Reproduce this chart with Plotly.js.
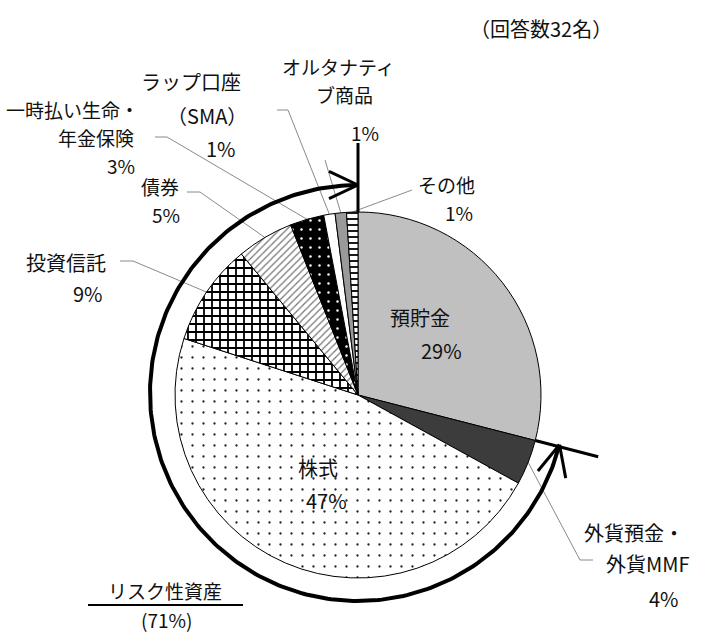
<!DOCTYPE html>
<html><head><meta charset="utf-8">
<script src="https://cdn.plot.ly/plotly-3.0.1.min.js"></script>
<style>html,body{margin:0;padding:0;background:#fff;}#chart{width:703px;height:633px;}</style>
</head><body><div id="chart"></div>
<script>
// ---- data ----
const categories = ['預貯金','外貨預金・外貨MMF','株式','投資信託','債券','一時払い生命・年金保険','ラップ口座（SMA）','オルタナティブ商品','その他'];
const values = [29, 4, 47, 9, 5, 3, 1, 1, 1];
const labelNameLines = [['預貯金'],['外貨預金・','外貨MMF'],['株式'],['投資信託'],['債券'],['一時払い生命・','年金保険'],['ラップ口座','（SMA）'],['オルタナティ','ブ商品'],['その他']];
const noteText = '（回答数32名）';
const riskTitle = 'リスク性資産';

// ---- layout / style ----
const W = 703, H = 633;
const CX = 358, CY = 395, R = 183;        // pie geometry (pixels)
const ARC_CY = 393, ARC_R = 208;          // risk arc
const FONT = '"Noto Sans CJK JP", "Noto Sans", sans-serif';
// label line positions per category: [x, y(center), font size]
const labelPos = [
  [[420,317,20],[441,350,20]],
  [[634,532,20],[648,563,20],[664,598,20]],
  [[318,467,20],[326,500,20]],
  [[66,262,20],[88,293,20]],
  [[160,186,19],[166,214,19]],
  [[72,109,19],[96,137,19],[121,165,19]],
  [[191,81,20],[207,115,20],[221,148,20]],
  [[338,66,19],[344,94,19],[365,132,19]],
  [[446,184,19],[459,212,19]]
];
const leaderStart = {
  1: [[593,560],[580,560]],
  3: [[120,261],[133,261]],
  4: [[187,192],[200,192]],
  5: [[155,137],[167,137]],
  6: [[277,110],[288,110]],
  7: [[325,160]],
  8: [[412,190]]
};
const sliceColors = ['#c0c0c0','#3c3c3c','#ffffff','#ffffff','#ffffff','#000000','#ffffff','#9a9a9a','#ffffff'];
const pattern = {
  shape:   ['', '', '.', '+', '/', '.', '', '', '-'],
  fgcolor: ['#c0c0c0','#3c3c3c','#222222','#000000','#777777','#ffffff','#ffffff','#9a9a9a','#000000'],
  bgcolor: ['#c0c0c0','#3c3c3c','#ffffff','#ffffff','#ffffff','#000000','#ffffff','#9a9a9a','#ffffff'],
  size:    [8, 8, 11, 8, 5, 9, 8, 8, 6],
  solidity:[0.3, 0.3, 0.035, 0.4, 0.25, 0.06, 0.3, 0.3, 0.3],
  fillmode: 'replace'
};

// ---- geometry from data ----
const total = values.reduce((a,b)=>a+b,0);
const cum = []; let acc = 0;
values.forEach(v => { cum.push(acc); acc += v; });
const angStart = i => cum[i] / total * 360;
const angMid = i => (cum[i] + values[i]/2) / total * 360;
const rad = d => d * Math.PI / 180;
const pt = (deg, r, cy) => [CX + r*Math.sin(rad(deg)), (cy===undefined?CY:cy) - r*Math.cos(rad(deg))];

const traces = [];
traces.push({
  type: 'pie', values: values, labels: categories, sort: false, direction: 'clockwise', rotation: 0,
  domain: {x: [(CX-R)/W, (CX+R)/W], y: [1-(CY+R)/H, 1-(CY-R)/H]},
  textinfo: 'none', hoverinfo: 'none', showlegend: false,
  marker: {colors: sliceColors, line: {color: '#000', width: 1}, pattern: pattern}
});

// leader lines
const lx = [], ly = [];
Object.keys(leaderStart).forEach(k => {
  const i = +k;
  leaderStart[k].forEach(p => { lx.push(p[0]); ly.push(p[1]); });
  const e = pt(angMid(i), R);
  lx.push(e[0]); ly.push(e[1]); lx.push(null); ly.push(null);
});
traces.push({type:'scatter', mode:'lines', x: lx, y: ly, line:{color:'#8a8a8a', width:1}, hoverinfo:'skip', showlegend:false});

// risk arc (from end of 預貯金 clockwise to 12 o'clock)
const riskStart = angStart(1), riskEnd = 360;
const ax = [], ay = [];
for (let d = riskStart; d <= riskEnd + 0.001; d += 1) {
  const p = pt(Math.min(d, riskEnd), ARC_R, ARC_CY); ax.push(p[0]); ay.push(p[1]);
}
traces.push({type:'scatter', mode:'lines', x: ax, y: ay, line:{color:'#000', width:4}, hoverinfo:'skip', showlegend:false});

// dividers + arrowheads
const dx = [], dy = [];
const seg = (a, b) => { dx.push(a[0], b[0], null); dy.push(a[1], b[1], null); };
seg(pt(riskEnd, R), pt(riskEnd, 252));
seg(pt(riskStart, R), pt(riskStart, 248));
const rot = (v, a) => [v[0]*Math.cos(a) - v[1]*Math.sin(a), v[0]*Math.sin(a) + v[1]*Math.cos(a)];
function head(tip, back, len) {
  [rad(25), rad(-25)].forEach(a => {
    const v = rot(back, a);
    seg(tip, [tip[0] + v[0]*len, tip[1] + v[1]*len]);
  });
}
const t1 = pt(riskEnd, ARC_R, ARC_CY);
head(t1, [-Math.cos(rad(riskEnd)), -Math.sin(rad(riskEnd))], 32);
const t2 = pt(riskStart, ARC_R, ARC_CY);
head(t2, [Math.cos(rad(riskStart)), Math.sin(rad(riskStart))], 34);
traces.push({type:'scatter', mode:'lines', x: dx, y: dy, line:{color:'#000', width:3}, hoverinfo:'skip', showlegend:false});

// annotations
const ann = [];
const addText = (t, x, y, size) => ann.push({x:x, y:y, xref:'x', yref:'y', text:t, showarrow:false,
  xanchor:'center', yanchor:'middle', borderpad:0,
  font:{family:FONT, size:size||20, color:'#111'}});
categories.forEach((c, i) => {
  const lines = labelNameLines[i].concat([values[i] + '%']);
  lines.forEach((t, j) => addText(t, labelPos[i][j][0], labelPos[i][j][1], labelPos[i][j][2]));
});
addText(noteText, 541, 28);
addText(riskTitle, 165, 590, 19);
addText('(' + (total - values[0]) + '%)', 166, 619, 19);

const layout = {
  width: W, height: H, margin: {l:0, r:0, t:0, b:0, pad:0},
  paper_bgcolor: '#fff', plot_bgcolor: 'rgba(0,0,0,0)',
  xaxis: {range: [0, W], visible: false, fixedrange: true},
  yaxis: {range: [H, 0], visible: false, fixedrange: true},
  showlegend: false, annotations: ann,
  shapes: [{type:'line', xref:'x', yref:'y', x0:88, x1:243, y0:605, y1:605, line:{color:'#000', width:2}}]
};
Plotly.newPlot('chart', traces, layout, {staticPlot: true});
</script>
</body></html>
